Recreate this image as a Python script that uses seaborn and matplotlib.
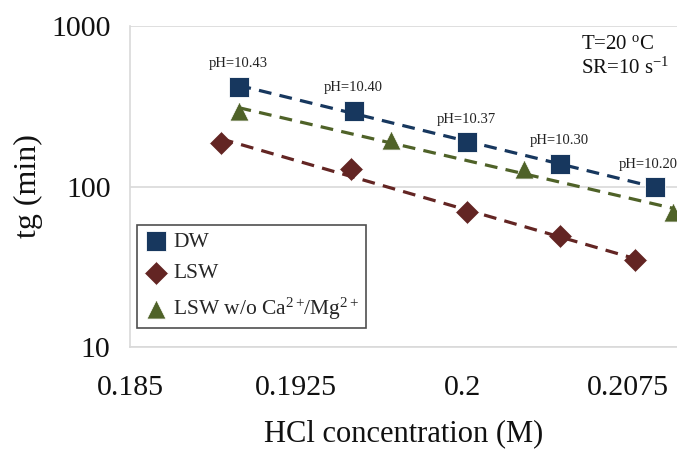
import numpy as np
import matplotlib
matplotlib.use('Agg')
import matplotlib.pyplot as plt
import seaborn as sns
from matplotlib.ticker import FixedLocator, FixedFormatter, NullLocator

# values
dw_x = [0.1899, 0.1951, 0.2002, 0.2044, 0.2087]
dw_y = [418, 297, 189, 138, 99]
lsw_x = [0.1891, 0.1950, 0.2002, 0.2044, 0.2078]
lsw_y = [187, 128, 69, 49.5, 34.6]
free_x = [0.1899, 0.1968, 0.2028, 0.2095]
free_y = [294, 196, 128, 69]
ph_labels = ['pH=10.43', 'pH=10.40', 'pH=10.37', 'pH=10.30', 'pH=10.20']
x_ticks = [0.185, 0.1925, 0.2, 0.2075]
x_tick_labels = ['0.185', '0.1925', '0.2', '0.2075']
y_ticks = [10, 100, 1000]
y_tick_labels = ['10', '100', '1000']

sns.set_style('white')
plt.rcParams['font.family'] = ['Liberation Serif', 'DejaVu Serif']
plt.rcParams['mathtext.fontset'] = 'custom'
plt.rcParams['mathtext.rm'] = 'Liberation Serif'
plt.rcParams['mathtext.it'] = 'Liberation Serif:italic'

c_dw = '#17375E'
c_lsw = '#632523'
c_free = '#4F6228'
grid_c = '#D9D9D9'

fig = plt.figure(figsize=(6.77, 4.5), dpi=100)
ax = fig.add_axes([0.192, 0.229, 0.808, 0.713])
ax.set_yscale('log')

series = [
    (dw_x, dw_y, c_dw, 's', 200, 'DW'),
    (lsw_x, lsw_y, c_lsw, 'D', 150, 'LSW'),
    (free_x, free_y, c_free, '^', 190,
     r'LSW w/o Ca$\mathregular{^{2+}\!}$/Mg$\mathregular{^{2+}}$'),
]

for xs, ys, col, mk, sz, lab in series:
    sns.scatterplot(x=xs, y=ys, ax=ax, color=col, marker=mk, s=sz,
                    edgecolor='white', linewidth=0.6, label=lab, zorder=3)
    # exponential trendline, like excel
    k, b = np.polyfit(xs, np.log10(ys), 1)
    xx = np.array([min(xs), max(xs)])
    ax.plot(xx, 10 ** (k * xx + b), color=col, lw=2.3,
            ls=(0, (4, 2.6)), zorder=4)

# last label nudged left so it stays inside the figure
nudge = [0, 0, 0, 0, -5]
for x, y, t, dx in zip(dw_x, dw_y, ph_labels, nudge):
    ax.annotate(t, (x, y), xytext=(dx, 12), textcoords='offset points',
                ha='center', va='bottom', fontsize=10.5, color='#222222')

ax.text(0.825, 0.93, r'T=20 $\mathregular{^{o}}$C', transform=ax.transAxes,
        fontsize=15, color='#111111')
ax.text(0.825, 0.85, r'SR=10 s$\mathregular{^{-1}}$', transform=ax.transAxes,
        fontsize=15, color='#111111')

ax.set_xlim(0.185, 0.2097)
ax.set_ylim(10, 1000)
ax.xaxis.set_major_locator(FixedLocator(x_ticks))
ax.xaxis.set_major_formatter(FixedFormatter(x_tick_labels))
ax.yaxis.set_major_locator(FixedLocator(y_ticks))
ax.yaxis.set_major_formatter(FixedFormatter(y_tick_labels))
ax.yaxis.set_minor_locator(NullLocator())
ax.tick_params(axis='both', labelsize=21.5, colors=grid_c, labelcolor='#111111',
               direction='out', width=1.2)
ax.tick_params(axis='x', length=6, pad=14)
ax.tick_params(axis='y', length=10, pad=4)
ax.grid(axis='y', color=grid_c, lw=1.2)
for s in ['top', 'right']:
    ax.spines[s].set_visible(False)
for s in ['left', 'bottom']:
    ax.spines[s].set_color(grid_c)
    ax.spines[s].set_linewidth(1.2)

ax.set_xlabel('HCl concentration (M)', fontsize=22, color='#111111', labelpad=13)
ax.set_ylabel('tg (min)', fontsize=23, color='#111111', labelpad=6)

leg = ax.legend(loc='upper left', bbox_to_anchor=(0.012, 0.38), fontsize=15.5,
                frameon=True, fancybox=False, edgecolor='#222222',
                borderpad=0.3, labelspacing=0.55, handletextpad=0.2,
                borderaxespad=0, handlelength=1.2)
leg.get_frame().set_linewidth(1.2)

plt.savefig('out.png', dpi=100)
